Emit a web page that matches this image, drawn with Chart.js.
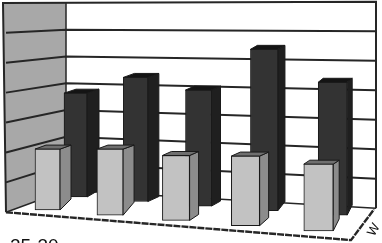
<!DOCTYPE html>
<html>
<head>
<meta charset="utf-8">
<title>3D bars</title>
<script src="https://cdn.jsdelivr.net/npm/chart.js@4/dist/chart.umd.js"></script>
<style>
    html, body { margin: 0; padding: 0; background: #fff; overflow: hidden; }
    canvas { display: block; }
</style>
</head>
<body>
<canvas id="chart" width="382" height="243"></canvas>
<script>
// values, in y axis units
const categoryLabels = ['25-30'];
const seriesLabels = ['W'];
const frontValues = [10.5, 11.4, 11.2, 12, 11.5];
const backValues = [17.9, 21.4, 20, 27.8, 22.9];
const gridLevels = [1, 2, 3, 4, 5, 6];

// box corners, x in x axis units, floor and top in y axis units
const frontLeft = { x: 6, floor: 5.3, top: 41.4 };
const backLeft = { x: 66, floor: 9.1, top: 41.4 };
const backRight = { x: 376, floor: 6, top: 41.6 };
const frontRight = { x: 351, floor: 0.5 };
const floorRight = { x: 374, floor: 5.8 };

const levelAt = (corner, level) => corner.floor + (corner.top - corner.floor) * level / 7;

// rows get wider and lower on the page going right
const rows = {
    back: {
        values: backValues,
        centre: i => 75.5 + 58.7 * i + 1.4 * i * i,
        width: i => 23 + 1.5 * i,
        floor: i => 7.93 - 0.78 * i,
        depth: [12, 11, 9, 7, 5],
        rise: [7, 5, 5, 9, 10],
        face: '#333333', side: '#1f1f1f', lid: '#141414', order: 6
    },
    front: {
        values: frontValues,
        centre: i => 47.5 + 60.75 * i + 1.75 * i * i,
        width: i => 25 + 1.1 * i,
        floor: i => 5.69 - 0.9 * i,
        depth: [11, 11, 9, 9, 6],
        rise: [11, 13, 6, 8, 12],
        face: '#c2c2c2', side: '#8c8c8c', lid: '#6f6f6f', order: 1
    }
};

const lineSet = (points, width, order, dash) => ({
    type: 'line',
    data: points,
    borderColor: '#262626',
    borderWidth: width,
    borderDash: dash || [],
    pointRadius: 0,
    tension: 0,
    fill: false,
    order: order
});

const gridSets = gridLevels.map(level => lineSet([
    { x: frontLeft.x, y: levelAt(frontLeft, level) },
    { x: backLeft.x, y: levelAt(backLeft, level) },
    { x: backRight.x, y: levelAt(backRight, level) }
], 2, 10));

const edgeSets = [
    lineSet([
        { x: frontLeft.x, y: frontLeft.floor },
        { x: frontLeft.x - 3, y: frontLeft.top },
        { x: backRight.x, y: backRight.top },
        { x: backRight.x, y: backRight.floor }
    ], 2, 9),
    lineSet([
        { x: backLeft.x, y: backLeft.top },
        { x: backLeft.x, y: backLeft.floor },
        { x: frontLeft.x, y: frontLeft.floor }
    ], 1.5, 9),
    lineSet([
        { x: backLeft.x, y: backLeft.floor },
        { x: backRight.x, y: backRight.floor }
    ], 1.5, 9),
    lineSet([
        { x: frontLeft.x, y: frontLeft.floor },
        { x: frontRight.x, y: frontRight.floor },
        { x: floorRight.x, y: floorRight.floor }
    ], 2.4, 9, [7, 1])
];

const barSets = [];
['back', 'front'].forEach(name => {
    const row = rows[name];
    row.values.forEach((value, i) => {
        const base = row.floor(i);
        barSets.push({
            type: 'bar',
            data: [{ x: row.centre(i), y: [base, base + value] }],
            barThickness: row.width(i),
            grouped: false,
            backgroundColor: row.face,
            borderColor: '#1a1a1a',
            borderWidth: 1,
            borderSkipped: false,
            order: row.order + (4 - i) * 0.1,
            depth: row.depth[i],
            rise: row.rise[i],
            sideColor: row.side,
            lidColor: row.lid
        });
    });
});

const solids = {
    id: 'solids',
    // side and lid of a bar come from where the bar element ended up
    beforeDatasetDraw(chart, args) {
        const set = chart.data.datasets[args.index];
        if (set.type !== 'bar') return;
        const ctx = chart.ctx;
        const bar = chart.getDatasetMeta(args.index).data[0];
        const left = bar.x - bar.width / 2;
        const right = bar.x + bar.width / 2;
        ctx.save();
        ctx.strokeStyle = '#1a1a1a';
        ctx.lineWidth = 1;
        ctx.fillStyle = set.sideColor;
        ctx.beginPath();
        ctx.moveTo(right, bar.y);
        ctx.lineTo(right + set.depth, bar.y - 4);
        ctx.lineTo(right + set.depth, bar.base - set.rise);
        ctx.lineTo(right, bar.base);
        ctx.closePath();
        ctx.fill();
        ctx.stroke();
        ctx.fillStyle = set.lidColor;
        ctx.beginPath();
        ctx.moveTo(left, bar.y);
        ctx.lineTo(left + set.depth, bar.y - 4);
        ctx.lineTo(right + set.depth, bar.y - 4);
        ctx.lineTo(right, bar.y);
        ctx.closePath();
        ctx.fill();
        ctx.stroke();
        ctx.restore();
    },
    // grey left wall sits under everything
    beforeDatasetsDraw(chart) {
        const ctx = chart.ctx;
        const x = chart.scales.x;
        const y = chart.scales.y;
        ctx.save();
        ctx.fillStyle = '#a8a8a8';
        ctx.beginPath();
        ctx.moveTo(x.getPixelForValue(frontLeft.x - 3), y.getPixelForValue(frontLeft.top));
        ctx.lineTo(x.getPixelForValue(backLeft.x), y.getPixelForValue(backLeft.top));
        ctx.lineTo(x.getPixelForValue(backLeft.x), y.getPixelForValue(backLeft.floor));
        ctx.lineTo(x.getPixelForValue(frontLeft.x), y.getPixelForValue(frontLeft.floor));
        ctx.closePath();
        ctx.fill();
        ctx.restore();
    },
    // labels are cut off by the edge of the picture
    afterDraw(chart) {
        const ctx = chart.ctx;
        ctx.save();
        ctx.fillStyle = '#111111';
        ctx.font = '19px "Liberation Sans"';
        ctx.textBaseline = 'alphabetic';
        ctx.fillText(categoryLabels[0], 10, 252);
        ctx.translate(374, 237);
        ctx.rotate(-1.05);
        ctx.font = '13px "Liberation Sans"';
        ctx.fillText(seriesLabels[0], 0, 0);
        ctx.restore();
    }
};

new Chart(document.getElementById('chart'), {
    data: { datasets: gridSets.concat(edgeSets, barSets) },
    plugins: [solids],
    options: {
        responsive: false,
        animation: false,
        layout: { padding: 0 },
        plugins: {
            legend: { display: false },
            tooltip: { enabled: false }
        },
        scales: {
            x: { type: 'linear', min: 0, max: 382, offset: false, display: false },
            y: { type: 'linear', min: 0, max: 41.9, display: false }
        }
    }
});
</script>
</body>
</html>
